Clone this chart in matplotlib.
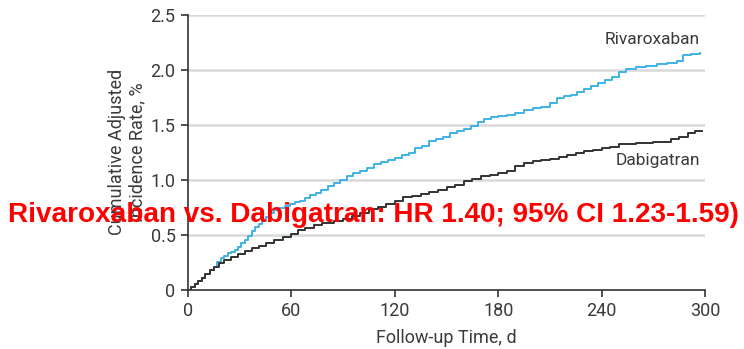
import matplotlib
matplotlib.use("Agg")
import matplotlib.pyplot as plt

# cumulative adjusted incidence (%) by follow-up day
riva_days = [0, 2, 4, 6, 8, 10, 13, 15, 17, 19, 21, 23, 25, 27, 29, 31, 33, 35, 37, 39,
             41, 43, 45, 47, 50, 53, 56, 59, 62, 65, 68, 71, 74, 77, 81, 85, 88, 92, 96,
             100, 104, 108, 112, 116, 120, 124, 128, 132, 136, 140, 144, 148, 152, 156,
             160, 164, 168, 172, 176, 180, 185, 190, 195, 200, 205, 210, 214, 218, 222,
             226, 230, 234, 238, 242, 246, 250, 254, 260, 266, 272, 278, 284, 287, 292, 297]
riva_rate = [0, 0.02, 0.05, 0.08, 0.11, 0.14, 0.18, 0.21, 0.25, 0.29, 0.31, 0.33, 0.34,
             0.36, 0.39, 0.42, 0.45, 0.49, 0.53, 0.57, 0.60, 0.62, 0.66, 0.70, 0.72, 0.74,
             0.76, 0.78, 0.80, 0.81, 0.83, 0.86, 0.88, 0.91, 0.94, 0.97, 1.00, 1.03, 1.06,
             1.08, 1.11, 1.14, 1.16, 1.18, 1.20, 1.22, 1.24, 1.29, 1.31, 1.35, 1.37, 1.39,
             1.42, 1.44, 1.46, 1.49, 1.52, 1.55, 1.57, 1.58, 1.59, 1.61, 1.63, 1.65, 1.66,
             1.70, 1.74, 1.76, 1.77, 1.80, 1.82, 1.85, 1.88, 1.91, 1.93, 1.98, 2.01, 2.02,
             2.03, 2.05, 2.06, 2.08, 2.13, 2.14, 2.15]

dabi_days = [0, 2, 4, 6, 8, 10, 13, 15, 18, 21, 25, 29, 33, 37, 41, 45, 50, 55, 60, 64,
             68, 73, 78, 85, 90, 95, 100, 105, 110, 115, 120, 125, 130, 135, 140, 145, 150,
             155, 160, 165, 170, 175, 180, 185, 190, 195, 200, 205, 210, 215, 220, 225,
             230, 235, 240, 245, 250, 260, 270, 280, 285, 290, 294, 298]
dabi_rate = [0, 0.02, 0.05, 0.08, 0.11, 0.14, 0.18, 0.21, 0.24, 0.27, 0.30, 0.32, 0.35,
             0.38, 0.40, 0.42, 0.45, 0.48, 0.51, 0.54, 0.56, 0.59, 0.61, 0.62, 0.64, 0.67,
             0.70, 0.73, 0.75, 0.78, 0.81, 0.84, 0.85, 0.87, 0.89, 0.91, 0.93, 0.95, 0.99,
             1.01, 1.03, 1.04, 1.06, 1.08, 1.12, 1.15, 1.17, 1.18, 1.19, 1.21, 1.22, 1.24,
             1.26, 1.27, 1.29, 1.30, 1.32, 1.33, 1.34, 1.37, 1.39, 1.42, 1.44, 1.44]

x_ticks = [0, 60, 120, 180, 240, 300]
y_ticks = [0, 0.5, 1.0, 1.5, 2.0, 2.5]
y_ticklabels = ["0", "0.5", "1.0", "1.5", "2.0", "2.5"]

plt.rcParams['font.family'] = ['Roboto', 'DejaVu Sans']
txt = '#3a3a3a'
blue = '#3fb1e5'
dark = '#333333'

fig = plt.figure(figsize=(7.44, 3.49), dpi=100)
ax = fig.add_axes([0.2527, 0.170, 0.6949, 0.788])

ax.step(riva_days, riva_rate, where='post', color=blue, lw=1.4, zorder=3)
ax.step(dabi_days, dabi_rate, where='post', color=dark, lw=1.4, zorder=3)

ax.set_xlim(0, 300)
ax.set_ylim(0, 2.5)
ax.set_xticks(x_ticks)
ax.set_yticks(y_ticks)
ax.set_yticklabels(y_ticklabels)
for y in y_ticks[1:]:
    ax.axhline(y, color='#d9d9d9', lw=1.8, zorder=1)

for s in ['top', 'right']:
    ax.spines[s].set_visible(False)
for s in ['left', 'bottom']:
    ax.spines[s].set_color(dark)
    ax.spines[s].set_linewidth(1.2)
ax.tick_params(direction='out', length=5, width=1.2, color=dark,
               labelsize=13, labelcolor=txt, pad=4)

ax.set_xlabel('Follow-up Time, d', fontsize=13, color=txt, labelpad=6)
ax.set_ylabel('Cumulative Adjusted\nIncidence Rate, %', fontsize=13, color=txt,
              labelpad=3, linespacing=1.15)

ax.text(297, 2.27, 'Rivaroxaban', ha='right', va='center', fontsize=12.5, color=txt)
ax.text(297, 1.17, 'Dabigatran', ha='right', va='center', fontsize=12.5, color=txt)

fig.text(8 / 744, 1 - 215 / 349, 'Rivaroxaban vs. Dabigatran: HR 1.40; 95% CI 1.23-1.59)',
         ha='left', va='center', fontsize=20.1, fontweight='bold', color='#ff0000',
         family=['Liberation Sans', 'DejaVu Sans'])

fig.savefig('out.png', dpi=100)
